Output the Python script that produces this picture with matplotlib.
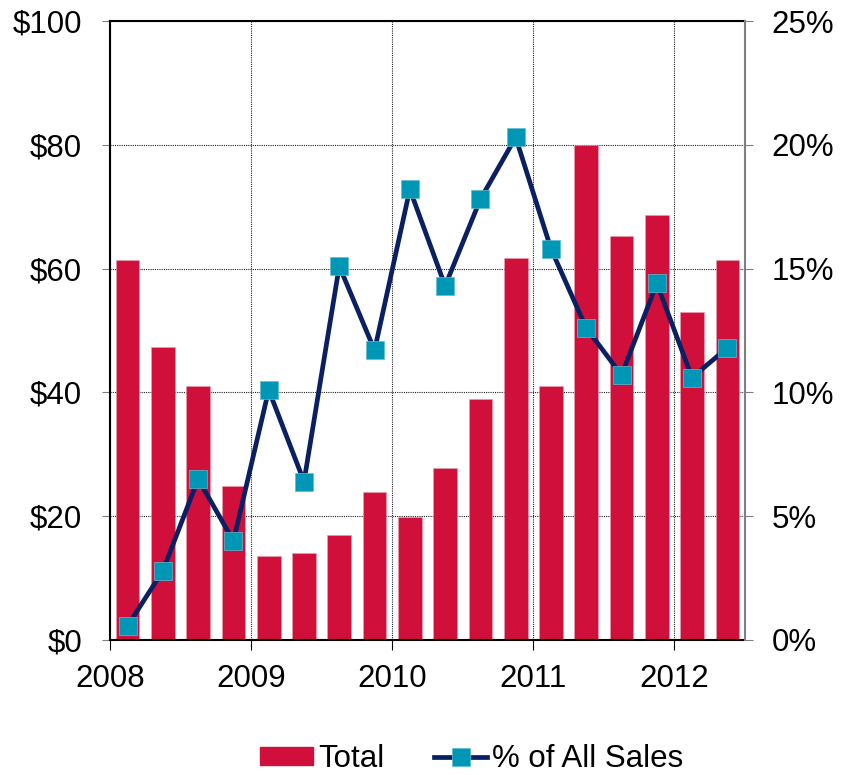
import matplotlib.pyplot as plt
import numpy as np

plt.rcParams['font.family'] = ['Liberation Sans', 'DejaVu Sans']

# quarterly data, 2008 Q1 .. 2012 Q2
quarters = ['2008Q1', '2008Q2', '2008Q3', '2008Q4',
            '2009Q1', '2009Q2', '2009Q3', '2009Q4',
            '2010Q1', '2010Q2', '2010Q3', '2010Q4',
            '2011Q1', '2011Q2', '2011Q3', '2011Q4',
            '2012Q1', '2012Q2']
total = [61.4, 47.3, 41.0, 24.9, 13.6, 14.0, 17.0, 23.9, 19.9,
         27.8, 38.9, 61.7, 41.0, 80.0, 65.3, 68.7, 53.0, 61.4]
pct_sales = [0.57, 2.8, 6.5, 4.0, 10.1, 6.4, 15.1, 11.7, 18.2,
             14.3, 17.8, 20.3, 15.8, 12.6, 10.7, 14.4, 10.6, 11.8]
year_labels = ['2008', '2009', '2010', '2011', '2012']

bar_color = '#D0103A'
line_color = '#0A2063'
marker_color = '#0097B6'
fs = 22.5

fig = plt.figure(figsize=(8.42, 7.75), dpi=100)
ax = fig.add_axes([0.1306, 0.1742, 0.7542, 0.7987])
ax2 = ax.twinx()

x = np.arange(len(quarters)) + 0.5
ax.bar(x, total, width=0.67, color=bar_color, edgecolor='#e8a0b0', linewidth=0.4, zorder=2)
ax.set_xlim(0, len(quarters))
ax.set_ylim(0, 100)
ax.set_yticks(np.arange(0, 101, 20))
ax.set_yticklabels([f'${v}' for v in range(0, 101, 20)])
ax.set_xticks(np.arange(0, len(quarters), 4))
ax.set_xticklabels(year_labels)

ax.grid(True, color='#222222', linestyle=(0, (1, 1)), linewidth=0.8, zorder=0)
ax.set_axisbelow(True)

ax.tick_params(axis='y', labelsize=fs, length=6, color='#808080', pad=14)
ax.tick_params(axis='x', labelsize=fs, length=7, color='black', pad=10)

for s in ['left', 'bottom', 'top']:
    ax.spines[s].set_color('black')
    ax.spines[s].set_linewidth(1.5)
ax.spines['right'].set_visible(False)

line, = ax2.plot(x, pct_sales, color=line_color, linewidth=3.4,
                 marker='s', markersize=13.5, markerfacecolor=marker_color,
                 markeredgecolor='#5fbcd0', markeredgewidth=0.5, zorder=3)
ax2.set_ylim(0, 25)
ax2.set_yticks(np.arange(0, 26, 5))
ax2.set_yticklabels([f'{v}%' for v in range(0, 26, 5)])
ax2.tick_params(axis='y', labelsize=fs, length=6, color='#808080', pad=13)
ax2.spines['right'].set_color('#808080')
ax2.spines['right'].set_linewidth(1.5)
for s in ['left', 'bottom', 'top']:
    ax2.spines[s].set_visible(False)

handles = [plt.Rectangle((0, 0), 1, 1, color=bar_color), line]
fig.legend(handles, ['Total', '% of All Sales'], loc='lower center',
           bbox_to_anchor=(0.56, -0.035), ncol=2, frameon=False, fontsize=fs,
           handlelength=1.7, handleheight=0.55, handletextpad=0.15,
           columnspacing=1.6)

fig.savefig('out.png', dpi=100)
